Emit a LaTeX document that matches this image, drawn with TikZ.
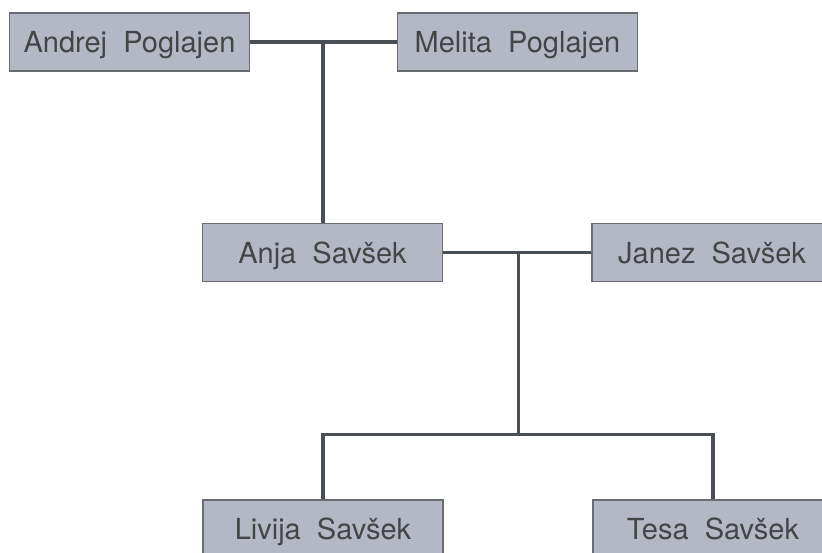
\documentclass[tikz,border=0pt]{standalone}
\usepackage{fontspec}
\setmainfont{TeX Gyre Heros}
\definecolor{boxfill}{HTML}{B4B8C5}
\definecolor{boxline}{HTML}{6A6C71}
\definecolor{conn}{HTML}{4A4E55}
\definecolor{txt}{HTML}{454545}
\begin{document}
\begin{tikzpicture}[x=1pt,y=1pt,
  person/.style={draw=boxline, line width=1.4pt, fill=boxfill, minimum width=240pt, minimum height=58pt, inner sep=0pt, text=txt, text height=21pt, text depth=0pt, font=\fontsize{29}{32}\selectfont},
  link/.style={draw=conn, line width=3.3pt}]
\useasboundingbox (0,0) rectangle (822,-552);
\begin{scope}
\clip (0,0) rectangle (822,-552);
\node[person] (andrej) at (129.5,-42) {Andrej\ \ Poglajen};
\node[person] (melita) at (517.5,-42) {Melita\ \ Poglajen};
\node[person] (anja) at (322.5,-252.5) {Anja\ \ Savšek};
\node[person] (janez) at (712,-252.5) {Janez\ \ Savšek};
\node[person] (livija) at (323,-529) {Livija\ \ Savšek};
\node[person] (tesa) at (713,-529) {Tesa\ \ Savšek};
\coordinate (m1) at (323,-42);
\coordinate (m2) at (518.5,-252.5);
\coordinate (m3) at (518.5,-434.5);
\draw[link] (andrej.east) -- (melita.west);
\draw[link] (m1) -- (anja.north -| m1);
\draw[link] (anja.east) -- (janez.west);
\draw[link] (m2) -- (m3);
\draw[link] (livija.north) |- (m3) -| (tesa.north);
\end{scope}
\end{tikzpicture}
\end{document}
